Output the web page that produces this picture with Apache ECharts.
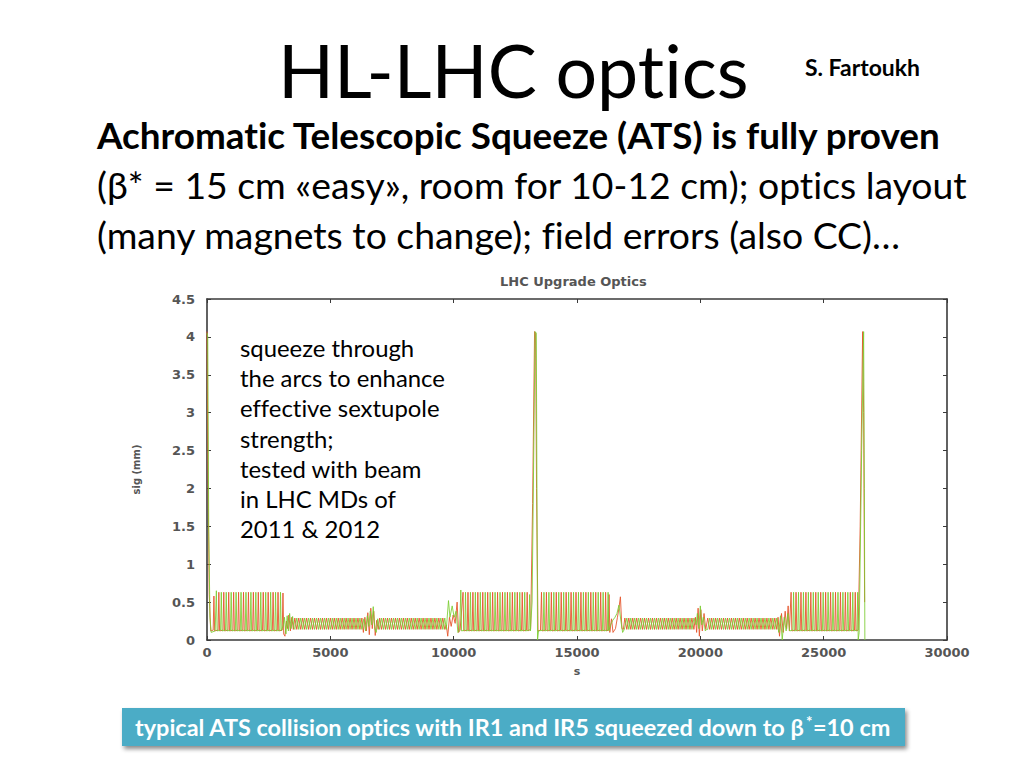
<!DOCTYPE html>
<html>
<head>
<meta charset="utf-8">
<script src="https://cdn.jsdelivr.net/npm/echarts@6/dist/echarts.min.js"></script>
<style>
html,body{margin:0;padding:0;background:#fff;}
#chart{width:1024px;height:768px;}
#chart text{font-variant-ligatures:none !important;font-feature-settings:"liga" 0, "clig" 0 !important;}
</style>
</head>
<body>
<div id="chart"></div>
<script>
// ---------- axis ticks ----------
const xTicks = [0, 5000, 10000, 15000, 20000, 25000, 30000];
const yTicks = [0, 0.5, 1, 1.5, 2, 2.5, 3, 3.5, 4, 4.5];

// ---------- beam size sig (mm) vs s (m), red curve ----------
const redS1 = [
[0,4.07],[40,2.2],[90,0.6],[150,0.12],[250,0.13],
[280,0.58],[310,0.12],[450,0.13],[480,0.63],[510,0.12],[650,0.13],[680,0.63],[710,0.12],[850,0.13],[880,0.63],[910,0.12],[1050,0.13],[1080,0.63],[1110,0.12],[1250,0.13],[1280,0.63],[1310,0.12],[1450,0.13],[1480,0.63],[1510,0.12],[1650,0.13],[1680,0.63],[1710,0.12],[1850,0.13],[1880,0.63],[1910,0.12],[2050,0.13],[2080,0.63],[2110,0.12],[2250,0.13],[2280,0.63],[2310,0.12],[2450,0.13],[2480,0.63],[2510,0.12],[2650,0.13],[2680,0.63],[2710,0.12],[2850,0.13],[2880,0.63],[2910,0.12],[3050,0.13],[3080,0.62],[3110,0.08],
[3160,0.05],[3220,0.25],[3270,0.15],[3320,0.33],[3380,0.12],[3440,0.3],[3500,0.14],
[3560,0.29],[3640,0.14],[3720,0.29],[3800,0.14],[3880,0.29],[3960,0.14],[4040,0.29],[4120,0.14],[4200,0.29],[4280,0.14],[4360,0.29],[4440,0.14],[4520,0.29],[4600,0.14],[4680,0.29],[4760,0.14],[4840,0.29],[4920,0.14],[5000,0.29],[5080,0.14],[5160,0.29],[5240,0.14],[5320,0.29],[5400,0.14],[5480,0.29],[5560,0.14],[5640,0.29],[5720,0.14],[5800,0.29],[5880,0.14],[5960,0.29],[6040,0.14],[6120,0.29],[6200,0.14],[6280,0.29],[6340,0.1],
[6400,0.3],[6460,0.12],[6520,0.36],[6580,0.07],[6640,0.42],[6700,0.15],[6760,0.38],[6820,0.06],[6880,0.26],[6940,0.14]
];
const redS2 = [
[7000,0.29],[7080,0.14],[7160,0.29],[7240,0.14],[7320,0.29],[7400,0.14],[7480,0.29],[7560,0.14],[7640,0.29],[7720,0.14],[7800,0.29],[7880,0.14],[7960,0.29],[8040,0.14],[8120,0.29],[8200,0.14],[8280,0.29],[8360,0.14],[8440,0.29],[8520,0.14],[8600,0.29],[8680,0.14],[8760,0.29],[8840,0.14],[8920,0.29],[9000,0.14],[9080,0.29],[9160,0.14],[9240,0.29],[9320,0.14],[9400,0.29],[9480,0.14],[9560,0.29],[9640,0.14],
[9700,0.2],[9760,0.05],[9830,0.3],[9900,0.18],[9980,0.33],[10060,0.22],[10140,0.5],[10200,0.1],[10260,0.13],
[10380,0.63],[10410,0.12],[10550,0.13],[10580,0.63],[10610,0.12],[10750,0.13],[10780,0.63],[10810,0.12],[10950,0.13],[10980,0.63],[11010,0.12],[11150,0.13],[11180,0.63],[11210,0.12],[11350,0.13],[11380,0.63],[11410,0.12],[11550,0.13],[11580,0.63],[11610,0.12],[11750,0.13],[11780,0.63],[11810,0.12],[11950,0.13],[11980,0.63],[12010,0.12],[12150,0.13],[12180,0.63],[12210,0.12],[12350,0.13],[12380,0.63],[12410,0.12],[12550,0.13],[12580,0.63],[12610,0.12],[12750,0.13],[12780,0.63],[12810,0.12],[12950,0.13],[12980,0.63],[13010,0.12],
[13120,0.14],[13200,1.8],[13280,4.07],[13320,4.05],[13360,2.0],[13420,0.12],[13520,0.13]
];
const redS3 = [
[13560,0.63],[13590,0.12],[13730,0.13],[13760,0.63],[13790,0.12],[13930,0.13],[13960,0.63],[13990,0.12],[14130,0.13],[14160,0.63],[14190,0.12],[14330,0.13],[14360,0.63],[14390,0.12],[14530,0.13],[14560,0.63],[14590,0.12],[14730,0.13],[14760,0.63],[14790,0.12],[14930,0.13],[14960,0.63],[14990,0.12],[15130,0.13],[15160,0.63],[15190,0.12],[15330,0.13],[15360,0.63],[15390,0.12],[15530,0.13],[15560,0.63],[15590,0.12],[15730,0.13],[15760,0.63],[15790,0.12],[15930,0.13],[15960,0.63],[15990,0.12],[16130,0.13],[16160,0.63],[16190,0.12],[16270,0.13],[16300,0.6],[16330,0.1],
[16400,0.28],[16460,0.1],[16560,0.15],[16640,0.3],[16700,0.42],[16760,0.57],[16820,0.15],[16880,0.14],
[16940,0.29],[17020,0.14],[17100,0.29],[17180,0.14],[17260,0.29],[17340,0.14],[17420,0.29],[17500,0.14],[17580,0.29],[17660,0.14],[17740,0.29],[17820,0.14],[17900,0.29],[17980,0.14],[18060,0.29],[18140,0.14],[18220,0.29],[18300,0.14],[18380,0.29],[18460,0.14],[18540,0.29],[18620,0.14],[18700,0.29],[18780,0.14],[18860,0.29],[18940,0.14],[19020,0.29],[19100,0.14],[19180,0.29],[19260,0.14],[19340,0.29],[19420,0.14],[19500,0.29],[19580,0.14],[19660,0.29],[19740,0.14],
[19800,0.3],[19850,0.1],[19910,0.42],[19960,0.05],[20020,0.4],[20080,0.12],[20150,0.35],[20220,0.14]
];
const redS4 = [
[20300,0.29],[20380,0.14],[20460,0.29],[20540,0.14],[20620,0.29],[20700,0.14],[20780,0.29],[20860,0.14],[20940,0.29],[21020,0.14],[21100,0.29],[21180,0.14],[21260,0.29],[21340,0.14],[21420,0.29],[21500,0.14],[21580,0.29],[21660,0.14],[21740,0.29],[21820,0.14],[21900,0.29],[21980,0.14],[22060,0.29],[22140,0.14],[22220,0.29],[22300,0.14],[22380,0.29],[22460,0.14],[22540,0.29],[22620,0.14],[22700,0.29],[22780,0.14],[22860,0.29],[22940,0.14],[23020,0.29],[23100,0.14],
[23150,0.3],[23210,0.05],[23290,0.35],[23360,0.1],[23440,0.38],[23500,0.15],[23560,0.45],[23610,0.12],
[23680,0.63],[23710,0.12],[23850,0.13],[23880,0.63],[23910,0.12],[24050,0.13],[24080,0.63],[24110,0.12],[24250,0.13],[24280,0.63],[24310,0.12],[24450,0.13],[24480,0.63],[24510,0.12],[24650,0.13],[24680,0.63],[24710,0.12],[24850,0.13],[24880,0.63],[24910,0.12],[25050,0.13],[25080,0.63],[25110,0.12],[25250,0.13],[25280,0.63],[25310,0.12],[25450,0.13],[25480,0.63],[25510,0.12],[25650,0.13],[25680,0.63],[25710,0.12],[25850,0.13],[25880,0.63],[25910,0.12],[26050,0.13],[26080,0.63],[26110,0.12],[26250,0.13],[26280,0.63],[26310,0.12],
[26400,0.13],[26480,1.5],[26580,4.07],[26620,3.0],[26660,0.5]
];

// ---------- green curve ----------
const greenS1 = [
[0,4.05],[30,4.0],[70,1.5],[120,0.3],[170,0.1],[330,0.12],
[380,0.65],[410,0.12],[550,0.13],[580,0.63],[610,0.12],[750,0.13],[780,0.63],[810,0.12],[950,0.13],[980,0.63],[1010,0.12],[1150,0.13],[1180,0.63],[1210,0.12],[1350,0.13],[1380,0.63],[1410,0.12],[1550,0.13],[1580,0.63],[1610,0.12],[1750,0.13],[1780,0.63],[1810,0.12],[1950,0.13],[1980,0.63],[2010,0.12],[2150,0.13],[2180,0.63],[2210,0.12],[2350,0.13],[2380,0.63],[2410,0.12],[2550,0.13],[2580,0.63],[2610,0.12],[2750,0.13],[2780,0.63],[2810,0.12],[2950,0.13],[2980,0.63],[3010,0.12],[3100,0.2],
[3140,0.3],[3200,0.08],[3250,0.32],[3300,0.12],[3350,0.35],[3410,0.15],[3470,0.31],[3530,0.15],
[3560,0.14],[3640,0.29],[3720,0.14],[3800,0.29],[3880,0.14],[3960,0.29],[4040,0.14],[4120,0.29],[4200,0.14],[4280,0.29],[4360,0.14],[4440,0.29],[4520,0.14],[4600,0.29],[4680,0.14],[4760,0.29],[4840,0.14],[4920,0.29],[5000,0.14],[5080,0.29],[5160,0.14],[5240,0.29],[5320,0.14],[5400,0.29],[5480,0.14],[5560,0.29],[5640,0.14],[5720,0.29],[5800,0.14],[5880,0.29],[5960,0.14],[6040,0.29],[6120,0.14],[6200,0.29],[6280,0.14],
[6360,0.28],[6430,0.12],[6500,0.32],[6560,0.18],[6620,0.38],[6680,0.2],[6740,0.44],[6800,0.16],[6860,0.1],[6920,0.28]
];
const greenS2 = [
[7000,0.14],[7080,0.29],[7160,0.14],[7240,0.29],[7320,0.14],[7400,0.29],[7480,0.14],[7560,0.29],[7640,0.14],[7720,0.29],[7800,0.14],[7880,0.29],[7960,0.14],[8040,0.29],[8120,0.14],[8200,0.29],[8280,0.14],[8360,0.29],[8440,0.14],[8520,0.29],[8600,0.14],[8680,0.29],[8760,0.14],[8840,0.29],[8920,0.14],[9000,0.29],[9080,0.14],[9160,0.29],[9240,0.14],[9320,0.29],[9400,0.14],[9480,0.29],[9560,0.14],[9640,0.29],[9700,0.14],
[9790,0.52],[9850,0.3],[9940,0.45],[10020,0.3],[10100,0.38],[10170,0.1],[10240,0.13],
[10290,0.66],[10320,0.12],[10450,0.13],[10480,0.63],[10510,0.12],[10650,0.13],[10680,0.63],[10710,0.12],[10850,0.13],[10880,0.63],[10910,0.12],[11050,0.13],[11080,0.63],[11110,0.12],[11250,0.13],[11280,0.63],[11310,0.12],[11450,0.13],[11480,0.63],[11510,0.12],[11650,0.13],[11680,0.63],[11710,0.12],[11850,0.13],[11880,0.63],[11910,0.12],[12050,0.13],[12080,0.63],[12110,0.12],[12250,0.13],[12280,0.63],[12310,0.12],[12450,0.13],[12480,0.63],[12510,0.12],[12650,0.13],[12680,0.63],[12710,0.12],[12850,0.13],[12880,0.63],[12910,0.12],[13050,0.13],[13080,0.6],[13110,0.12],
[13180,0.5],[13300,4.07],[13350,4.05],[13400,0.0],[13440,0.12],[13630,0.13]
];
const greenS3 = [
[13660,0.63],[13690,0.12],[13830,0.13],[13860,0.63],[13890,0.12],[14030,0.13],[14060,0.63],[14090,0.12],[14230,0.13],[14260,0.63],[14290,0.12],[14430,0.13],[14460,0.63],[14490,0.12],[14630,0.13],[14660,0.63],[14690,0.12],[14830,0.13],[14860,0.63],[14890,0.12],[15030,0.13],[15060,0.63],[15090,0.12],[15230,0.13],[15260,0.63],[15290,0.12],[15430,0.13],[15460,0.63],[15490,0.12],[15630,0.13],[15660,0.63],[15690,0.12],[15830,0.13],[15860,0.63],[15890,0.12],[16030,0.13],[16060,0.63],[16090,0.12],[16230,0.13],[16260,0.63],[16290,0.12],
[16360,0.2],[16450,0.26],[16540,0.3],[16620,0.35],[16700,0.46],[16780,0.25],[16850,0.1],[16920,0.14],
[16940,0.14],[17020,0.29],[17100,0.14],[17180,0.29],[17260,0.14],[17340,0.29],[17420,0.14],[17500,0.29],[17580,0.14],[17660,0.29],[17740,0.14],[17820,0.29],[17900,0.14],[17980,0.29],[18060,0.14],[18140,0.29],[18220,0.14],[18300,0.29],[18380,0.14],[18460,0.29],[18540,0.14],[18620,0.29],[18700,0.14],[18780,0.29],[18860,0.14],[18940,0.29],[19020,0.14],[19100,0.29],[19180,0.14],[19260,0.29],[19340,0.14],[19420,0.29],[19500,0.14],[19580,0.29],[19660,0.14],[19740,0.29],
[19830,0.2],[19880,0.35],[19940,0.15],[20000,0.45],[20060,0.2],[20120,0.3],[20200,0.12],[20260,0.14]
];
const greenS4 = [
[20300,0.14],[20380,0.29],[20460,0.14],[20540,0.29],[20620,0.14],[20700,0.29],[20780,0.14],[20860,0.29],[20940,0.14],[21020,0.29],[21100,0.14],[21180,0.29],[21260,0.14],[21340,0.29],[21420,0.14],[21500,0.29],[21580,0.14],[21660,0.29],[21740,0.14],[21820,0.29],[21900,0.14],[21980,0.29],[22060,0.14],[22140,0.29],[22220,0.14],[22300,0.29],[22380,0.14],[22460,0.29],[22540,0.14],[22620,0.29],[22700,0.14],[22780,0.29],[22860,0.14],[22940,0.29],[23020,0.14],[23100,0.29],
[23180,0.1],[23250,0.32],[23320,0.0],[23400,0.3],[23480,0.12],[23550,0.35],[23620,0.12],[23750,0.13],
[23780,0.63],[23810,0.12],[23950,0.13],[23980,0.63],[24010,0.12],[24150,0.13],[24180,0.63],[24210,0.12],[24350,0.13],[24380,0.63],[24410,0.12],[24550,0.13],[24580,0.63],[24610,0.12],[24750,0.13],[24780,0.63],[24810,0.12],[24950,0.13],[24980,0.63],[25010,0.12],[25150,0.13],[25180,0.63],[25210,0.12],[25350,0.13],[25380,0.63],[25410,0.12],[25550,0.13],[25580,0.63],[25610,0.12],[25750,0.13],[25780,0.63],[25810,0.12],[25950,0.13],[25980,0.63],[26010,0.12],[26150,0.13],[26180,0.63],[26210,0.12],[26350,0.13],[26380,0.63],[26400,0.0],
[26440,0.1],[26540,2.5],[26620,4.07],[26650,2.0],[26670,0.0]
];

// ---------- slide texts ----------
const slideTitle = 'HL-LHC optics';
const author = 'S. Fartoukh';
const headLine = 'Achromatic Telescopic Squeeze (ATS) is fully proven';
const bodyLines = ['(\u03B2* = 15 cm \u00ABeasy\u00BB, room for 10-12 cm); optics layout',
                   '(many magnets to change); field errors (also CC)\u2026'];
const noteLines = ['squeeze through','the arcs to enhance','effective sextupole','strength;','tested with beam','in LHC MDs of','2011 & 2012'];
const captionA = 'typical ATS collision optics with IR1 and IR5 squeezed down to \u03B2';
const captionSup = '*';
const captionB = '=10 cm';

// ---------- layout helpers ----------
const FAM = 'Lato, "Open Sans", sans-serif';
const mctx = document.createElement('canvas').getContext('2d');
function textW(t, weight, size){ mctx.font = weight + ' ' + size + 'px ' + FAM; return mctx.measureText(t).width; }
function fit(t, weight, target){ return 40 * target / textW(t, weight, 40); }

const titleSize = fit(slideTitle, 'normal', 472);
const authorSize = fit(author, 'bold', 115);
const headSize = fit(headLine, 'bold', 846);
const bodySize = (fit(bodyLines[0], 'normal', 871) + fit(bodyLines[1], 'normal', 803)) / 2;
const noteSize = fit(noteLines[1], 'normal', 205);
const capSize = fit(captionA + captionSup + captionB, 'bold', 758);

function txt(t, x, y, size, weight, color, align){
  return {type:'text', x:x, y:y, z:100, silent:true,
    style:{text:t, font: weight + ' ' + size.toFixed(2) + 'px ' + FAM, fill:color||'#000',
      textAlign:align||'left', align:align||'left', textVerticalAlign:'middle', verticalAlign:'middle'}};
}

const graphics = [];
graphics.push(txt(slideTitle, 278, 94 - 0.33*titleSize, titleSize, 'normal', '#000'));
graphics.push(txt(author, 805, 75 - 0.33*authorSize, authorSize, 'bold', '#000'));
graphics.push(txt(headLine, 97, 147 - 0.33*headSize, headSize, 'bold', '#000'));
graphics.push(txt(bodyLines[0], 97, 197 - 0.33*bodySize, bodySize, 'normal', '#000'));
graphics.push(txt(bodyLines[1], 97, 246.5 - 0.33*bodySize, bodySize, 'normal', '#000'));
const noteBase = [355, 385.3, 415.6, 445.9, 476.2, 506.5, 536.8];
noteLines.forEach(function(l, i){ graphics.push(txt(l, 240, noteBase[i] - 0.33*noteSize, noteSize, 'normal', '#000')); });

// caption box
graphics.push({type:'rect', z:90, silent:true, shape:{x:122, y:708, width:783, height:38},
  style:{fill:'#4bacc6', shadowBlur:4, shadowOffsetX:2, shadowOffsetY:3, shadowColor:'rgba(0,0,0,0.45)'}});
const wA = textW(captionA, 'bold', capSize);
const wS = textW(captionSup, 'bold', capSize*0.65);
const capX = 135;
graphics.push(txt(captionA, capX, 727, capSize, 'bold', '#fff'));
graphics.push(txt(captionSup, capX + wA + 0.5, 721, capSize*0.65, 'bold', '#fff'));
graphics.push(txt(captionB, capX + wA + wS + 1, 727, capSize, 'bold', '#fff'));

// ---------- chart ----------
const chart = echarts.init(document.getElementById('chart'), null, {renderer:'svg', width:1024, height:768});
const axisCol = '#3a3a3a';
const lblStyle = {color:'#555', fontFamily:'DejaVu Sans', fontWeight:'bold', fontSize:13};
function baseX(pos, show){
  return {type:'value', position:pos, min:xTicks[0], max:xTicks[xTicks.length-1], interval:xTicks[1]-xTicks[0],
    axisLine:{show:true, onZero:false, lineStyle:{color:axisCol, width:1.6}},
    axisTick:{show:true, inside:true, length:4, lineStyle:{color:axisCol}},
    axisLabel:Object.assign({show:show, margin:6, formatter:function(v){return String(v);}}, lblStyle),
    splitLine:{show:false}};
}
function baseY(pos, show){
  return {type:'value', position:pos, min:yTicks[0], max:yTicks[yTicks.length-1], interval:yTicks[1]-yTicks[0],
    axisLine:{show:true, onZero:false, lineStyle:{color:axisCol, width:1.6}},
    axisTick:{show:true, inside:true, length:4, lineStyle:{color:axisCol}},
    axisLabel:Object.assign({show:show, margin:12, formatter:function(v){return String(v);}}, lblStyle),
    splitLine:{show:false}};
}
const xMain = baseX('bottom', true);
xMain.name = 's'; xMain.nameLocation = 'middle'; xMain.nameGap = 26;
xMain.nameTextStyle = {color:'#555', fontFamily:'DejaVu Sans', fontWeight:'bold', fontSize:11};
const yMain = baseY('left', true);
yMain.name = 'sig (mm)'; yMain.nameLocation = 'middle'; yMain.nameGap = 66; yMain.nameRotate = 90;
yMain.nameTextStyle = {color:'#555', fontFamily:'DejaVu Sans', fontWeight:'bold', fontSize:10};

const option = {
  animation:false,
  backgroundColor:'#fff',
  title:{text:'LHC Upgrade Optics', left:500, top:275, padding:0,
    textStyle:{color:'#555', fontFamily:'DejaVu Sans', fontWeight:'bold', fontSize:13}},
  grid:{left:207, right:77, top:299, bottom:128, containLabel:false},
  xAxis:[xMain, baseX('top', false)],
  yAxis:[yMain, baseY('right', false)],
  series:[
    {type:'line', name:'red', xAxisIndex:0, yAxisIndex:0, showSymbol:false, symbol:'none',
     data:[].concat(redS1, redS2, redS3, redS4),
     lineStyle:{color:'#e5582f', width:1, opacity:0.9}},
    {type:'line', name:'green', xAxisIndex:0, yAxisIndex:0, showSymbol:false, symbol:'none',
     data:[].concat(greenS1, greenS2, greenS3, greenS4),
     lineStyle:{color:'#7acd30', width:1, opacity:0.85}}
  ],
  graphic:graphics
};
chart.setOption(option);
</script>
</body>
</html>
